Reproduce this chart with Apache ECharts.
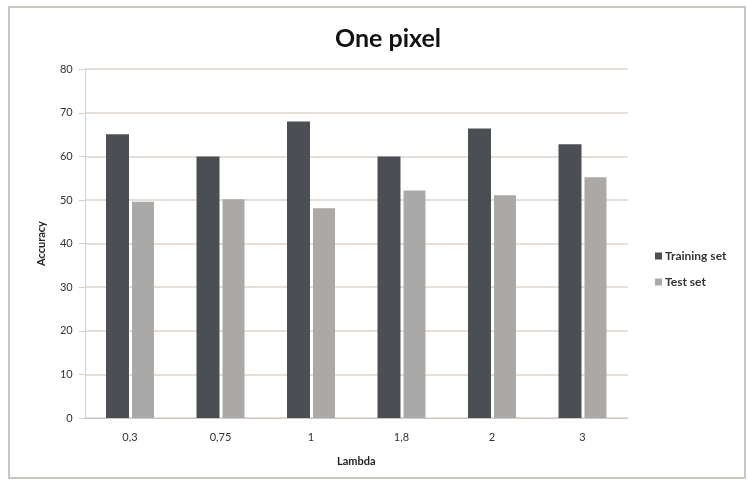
<!DOCTYPE html>
<html>
<head>
<meta charset="utf-8">
<script src="https://cdn.jsdelivr.net/npm/echarts@6/dist/echarts.min.js"></script>
<style>
  html, body { margin: 0; padding: 0; background: #fff; }
  #chart { width: 747px; height: 484px; }
</style>
</head>
<body>
<div id="chart"></div>
<script>
// Lambda values on the x axis
const categories = ['0,3', '0,75', '1', '1,8', '2', '3'];
// Accuracy per lambda
const trainingSet = [65.1, 60.0, 68.0, 60.0, 66.4, 62.8];
const testSet = [49.6, 50.2, 48.1, 52.2, 51.1, 55.2];
const seriesNames = ['Training set', 'Test set'];

const FONT = 'Lato, "Open Sans", sans-serif';

const chart = echarts.init(document.getElementById('chart'), null, { renderer: 'canvas' });

chart.setOption({
  backgroundColor: '#ffffff',
  animation: false,
  title: {
    text: 'One pixel',
    left: 383,
    top: 21,
    textAlign: 'center',
    textStyle: { fontFamily: FONT, fontWeight: 'bold', fontSize: 25, color: '#111' }
  },
  graphic: [{
    type: 'rect',
    shape: { x: 9, y: 7, width: 736, height: 471 },
    style: { fill: 'none', stroke: '#c9c5bf', lineWidth: 2 },
    silent: true
  }],
  legend: {
    orient: 'vertical',
    left: 650,
    top: 245,
    itemWidth: 7,
    itemHeight: 7,
    itemGap: 14,
    icon: 'rect',
    textStyle: { fontFamily: FONT, fontSize: 12, fontWeight: 'bold', color: '#333', padding: [0, 0, 0, -2] },
    data: seriesNames
  },
  grid: { left: 84.75, right: 119.25, top: 69.2, bottom: 66, containLabel: false },
  xAxis: {
    type: 'category',
    data: categories,
    name: 'Lambda',
    nameLocation: 'middle',
    nameGap: 38,
    nameTextStyle: { fontFamily: FONT, fontWeight: 'bold', fontSize: 11, color: '#222' },
    axisLine: { lineStyle: { color: '#cfc8c2', width: 1 } },
    axisTick: { show: false },
    axisLabel: { fontFamily: FONT, fontSize: 11, color: '#333', margin: 14 }
  },
  yAxis: {
    type: 'value',
    min: 0,
    max: 80,
    interval: 10,
    name: 'Accuracy',
    nameLocation: 'middle',
    nameGap: 38,
    nameRotate: 90,
    nameTextStyle: { fontFamily: FONT, fontWeight: 'bold', fontSize: 11, color: '#222' },
    axisLine: { show: true, lineStyle: { color: '#d6cfc9', width: 1 } },
    axisTick: { show: true, inside: false, length: 6, lineStyle: { color: '#d6cfc9' } },
    axisLabel: { fontFamily: FONT, fontSize: 11, color: '#333', margin: 12 },
    splitLine: { lineStyle: { color: '#ddd3cc', width: 1.5 } }
  },
  series: [
    {
      name: seriesNames[0],
      type: 'bar',
      data: trainingSet,
      barWidth: 23,
      barGap: '13%',
      itemStyle: { color: '#4b4e53' }
    },
    {
      name: seriesNames[1],
      type: 'bar',
      data: testSet,
      barWidth: 22,
      itemStyle: { color: '#aaa9a7' }
    }
  ]
});
</script>
</body>
</html>
